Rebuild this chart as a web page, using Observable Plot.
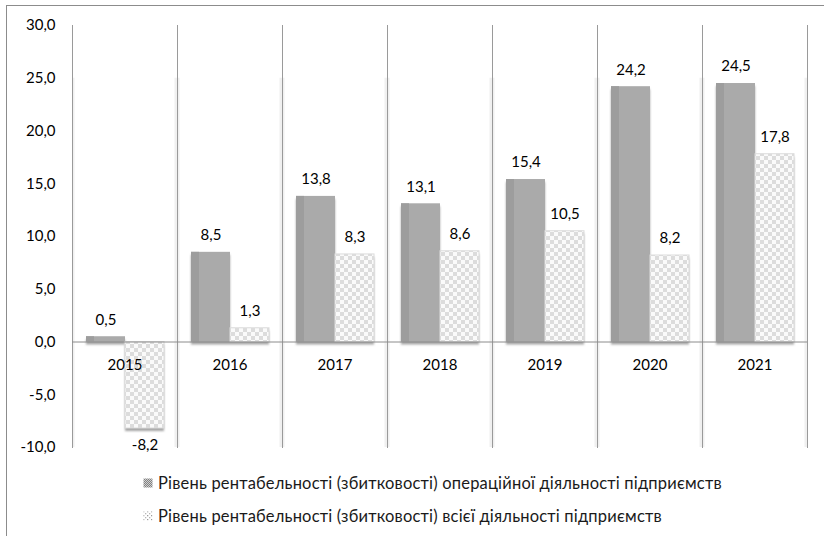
<!DOCTYPE html>
<html><head><meta charset="utf-8">
<script src="https://cdn.jsdelivr.net/npm/d3@7"></script>
<script src="https://cdn.jsdelivr.net/npm/@observablehq/plot@0.6"></script>
<style>
body{margin:0;background:#fff;font-family:Lato,sans-serif;}
#wrap{position:relative;width:824px;height:536px;overflow:hidden;}
#frame{position:absolute;left:6px;top:5px;width:830px;height:600px;border-left:1.5px solid #8c8c8c;border-top:1.5px solid #8c8c8c;}
#chart{position:absolute;left:0;top:0;}
#legend{position:absolute;left:143px;top:466px;font-size:16.5px;letter-spacing:0.18px;color:#1a1a1a;}
.li{height:33px;display:flex;align-items:center;white-space:nowrap;}
.li svg{margin-right:5px;}
</style></head><body>
<div id="wrap"><div id="frame"></div><div id="chart"></div><div id="legend"></div></div>
<script>
const years = ["2015","2016","2017","2018","2019","2020","2021"];
const opValues = [0.5, 8.5, 13.8, 13.1, 15.4, 24.2, 24.5];
const totalValues = [-8.2, 1.3, 8.3, 8.6, 10.5, 8.2, 17.8];
const seriesKeys = ["op","total"];
const seriesNames = [
  "Рівень рентабельності (збитковості) операційної діяльності підприємств",
  "Рівень рентабельності (збитковості) всієї діяльності підприємств"
];
const yTicks = [-10,-5,0,5,10,15,20,25,30];

const rows = years.flatMap((y,i)=>[{year:y, s:"op", v:opValues[i]},{year:y, s:"total", v:totalValues[i]}]);
const fmt = v => v.toFixed(1).replace(".", ",");
const opRows = rows.filter(d=>d.s==="op");
const totRows = rows.filter(d=>d.s==="total");

const plot = Plot.plot({
  width:824, height:460, marginLeft:70, marginRight:15, marginTop:25, marginBottom:13,
  style:{fontFamily:"Lato, sans-serif", fontSize:"15px", color:"#000", background:"transparent", overflow:"visible"},
  fx:{domain:years, padding:0, axis:null},
  x:{domain:seriesKeys, paddingInner:0, paddingOuter:0.32, axis:null},
  y:{domain:[-10,30], ticks:yTicks, tickFormat:fmt, tickSize:0, tickPadding:17, label:null},
  marks:[
    Plot.rect([0], {y1:-10, y2:25, insetRight:102.5, fill:"#f0f0f0"}),
    Plot.rect([0], {y1:-10, y2:25, insetLeft:102.5, fill:"#f0f0f0"}),
    Plot.frame({anchor:"left", stroke:"#9a9a9a"}),
    Plot.frame({anchor:"right", stroke:"#9a9a9a"}),
    Plot.barY(rows, {fx:"year", x:"s", y:"v", fill:"#7f7f7f", fillOpacity:0.7, dy:3}),
    Plot.barY(opRows, {fx:"year", x:"s", y:"v", fill:"#aaaaaa"}),
    Plot.barY(opRows, {fx:"year", x:"s", y:"v", fill:"#9d9d9d", insetRight:31}),
    Plot.barY(totRows, {fx:"year", x:"s", y:"v", fill:"url(#chk)", stroke:"#dcdcdc"}),
    Plot.ruleY([0], {stroke:"#8c8c8c"}),
    Plot.text(rows.filter(d=>d.v>=0), {fx:"year", x:"s", y:"v", text:d=>fmt(d.v), dy:-17, fill:"#000"}),
    Plot.text(rows.filter(d=>d.v<0), {fx:"year", x:"s", y:"v", text:d=>fmt(d.v), dy:17, fill:"#000"}),
    Plot.text(years, {fx:d=>d, y:0, text:d=>d, dy:23, fill:"#000"})
  ]
});
const ns = "http://www.w3.org/2000/svg";
const defs = document.createElementNS(ns, "defs");
defs.innerHTML = `<pattern id="chk" width="8" height="8" patternUnits="userSpaceOnUse"><rect width="8" height="8" fill="#fafafa"/><rect width="4" height="4" fill="#dcdcdc"/><rect x="4" y="4" width="4" height="4" fill="#dcdcdc"/></pattern><filter id="blur" x="-20%" y="-20%" width="140%" height="140%"><feGaussianBlur stdDeviation="1.2"/></filter>`;
plot.prepend(defs);
plot.querySelectorAll('g[fill="#7f7f7f"]').forEach(g=>g.setAttribute("filter","url(#blur)"));
document.getElementById("chart").appendChild(plot);

const sym = [
  `<svg width="10" height="10"><defs><pattern id="ls1" width="2" height="2" patternUnits="userSpaceOnUse"><rect width="2" height="2" fill="#d0d0d0"/><rect width="1" height="1" fill="#808080"/><rect x="1" y="1" width="1" height="1" fill="#808080"/></pattern></defs><rect x="0.5" y="0.5" width="9" height="9" fill="url(#ls1)"/></svg>`,
  `<svg width="10" height="10"><defs><pattern id="ls2" width="4" height="4" patternUnits="userSpaceOnUse"><rect width="4" height="4" fill="#fff"/><rect width="1.3" height="1.3" fill="#9a9a9a"/><rect x="2" y="2" width="1.3" height="1.3" fill="#b5b5b5"/></pattern></defs><rect x="0.5" y="0.5" width="9" height="9" fill="url(#ls2)"/></svg>`
];
const leg = document.getElementById("legend");
seriesNames.forEach((n,i)=>{
  const d = document.createElement("div");
  d.className = "li";
  d.innerHTML = sym[i] + `<span>${n}</span>`;
  leg.appendChild(d);
});
</script>
</body></html>
